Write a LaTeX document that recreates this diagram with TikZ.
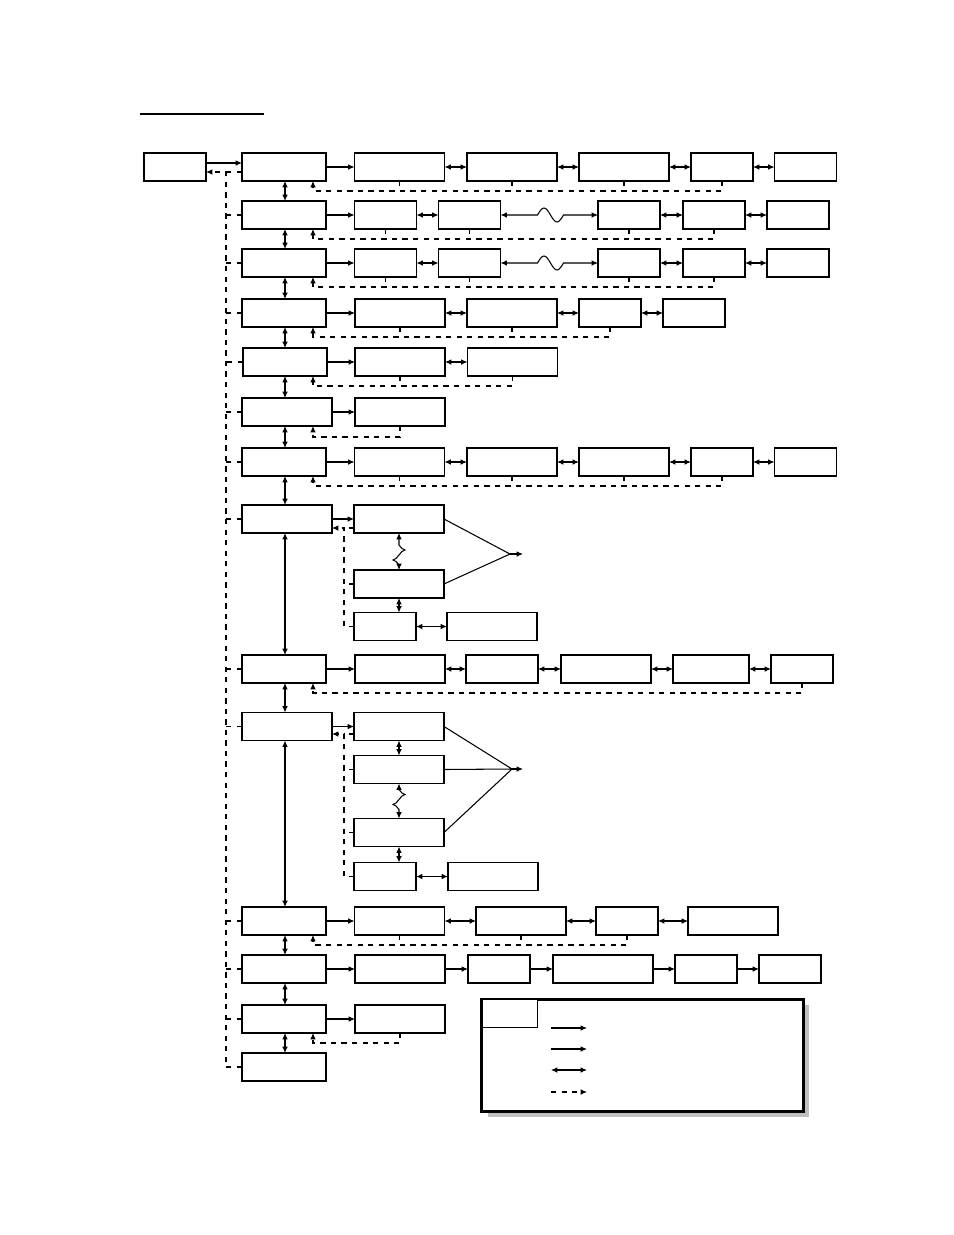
\documentclass[tikz,border=0pt]{standalone}
\usepackage{tikz}
\usetikzlibrary{arrows.meta, calc, shadows}

\begin{document}
\begin{tikzpicture}[
    x=0.02cm, y=-0.02cm,
    >={Latex[length=3.6pt, width=3.2pt]},
    box/.style={draw=black, line width=0.85pt, fill=white, minimum height=0.56cm, inner sep=0pt, outer sep=0pt},
    mainbox/.style={box, minimum width=1.68cm},
    widebox/.style={box, minimum width=1.8cm},
    smallbox/.style={box, minimum width=1.24cm},
    line/.style={line width=0.6pt},
    arrow/.style={->, line width=0.6pt},
    dblarrow/.style={<->, line width=0.6pt},
    fbarrow/.style={->, dashed, line width=0.6pt},
    fbline/.style={dashed, line width=0.6pt}
]
    \useasboundingbox (0,0) rectangle (954,1235);

    \coordinate (title) at (140,114);
    \draw[line width=1.1pt] (title) -- ++(124,0);

    \node[smallbox] (start) at (175,167) {};

    \node[mainbox] (m1) at (284,167) {};
    \node[mainbox] (m2) at (284,215) {};
    \node[mainbox] (m3) at (284,263) {};
    \node[mainbox] (m4) at (284,313) {};
    \node[mainbox] (m5) at (285,362) {};
    \node[widebox] (m6) at (287,412) {};
    \node[mainbox] (m7) at (284,462) {};
    \node[widebox] (m8) at (287,519) {};
    \node[mainbox] (m9) at (284,669) {};
    \node[widebox] (m10) at (287,726.5) {};
    \node[mainbox] (m11) at (284,921) {};
    \node[mainbox] (m12) at (284,969) {};
    \node[mainbox] (m13) at (284,1019) {};
    \node[mainbox] (m14) at (284,1067) {};

    \node[widebox] (b11) at (399.5,167) {};
    \node[widebox] (b12) at (512,167) {};
    \node[widebox] (b13) at (624,167) {};
    \node[smallbox] (b14) at (722,167) {};
    \node[smallbox] (b15) at (805.5,167) {};

    \node[smallbox] (b21) at (385.5,215) {};
    \node[smallbox] (b22) at (469.5,215) {};
    \node[smallbox] (b23) at (629,215) {};
    \node[smallbox] (b24) at (714,215) {};
    \node[smallbox] (b25) at (798,215) {};

    \node[smallbox] (b31) at (385.5,263) {};
    \node[smallbox] (b32) at (469.5,263) {};
    \node[smallbox] (b33) at (629,263) {};
    \node[smallbox] (b34) at (714,263) {};
    \node[smallbox] (b35) at (798,263) {};

    \node[widebox] (b41) at (400,313) {};
    \node[widebox] (b42) at (512,313) {};
    \node[smallbox] (b43) at (610,313) {};
    \node[smallbox] (b44) at (694,313) {};

    \node[widebox] (b51) at (400,362) {};
    \node[widebox] (b52) at (512.5,362) {};

    \node[widebox] (b61) at (400,412) {};

    \node[widebox] (b71) at (399.5,462) {};
    \node[widebox] (b72) at (512,462) {};
    \node[widebox] (b73) at (624,462) {};
    \node[smallbox] (b74) at (722,462) {};
    \node[smallbox] (b75) at (805.5,462) {};

    \node[widebox] (c1) at (399,519) {};
    \node[widebox] (c2) at (399,584) {};
    \node[smallbox] (c3) at (385,626.5) {};
    \node[widebox] (c4) at (492,626.5) {};

    \node[widebox] (b91) at (400,669) {};
    \node[box, minimum width=1.44cm] (b92) at (502,669) {};
    \node[widebox] (b93) at (606,669) {};
    \node[box, minimum width=1.52cm] (b94) at (711,669) {};
    \node[smallbox] (b95) at (802,669) {};

    \node[widebox] (d1) at (399,726.5) {};
    \node[widebox] (d2) at (399,769.5) {};
    \node[widebox] (d3) at (399,832.5) {};
    \node[smallbox] (d4) at (385,876.5) {};
    \node[widebox] (d5) at (493,876.5) {};

    \node[widebox] (b111) at (399.5,921) {};
    \node[widebox] (b112) at (521,921) {};
    \node[smallbox] (b113) at (627,921) {};
    \node[widebox] (b114) at (733,921) {};

    \node[widebox] (b121) at (400,969) {};
    \node[smallbox] (b122) at (499,969) {};
    \node[box, minimum width=2cm] (b123) at (603,969) {};
    \node[smallbox] (b124) at (706,969) {};
    \node[smallbox] (b125) at (790,969) {};

    \node[widebox] (b131) at (400,1019) {};

    \coordinate (bus) at (226,172);
    \coordinate (vx) at (285,0);
    \coordinate (fx) at (313,0);
    \coordinate (sb8) at (344,528);
    \coordinate (sb10) at (344,734);
    \coordinate (j8) at (510,554);
    \coordinate (j10) at (512,769);

    \draw[arrow] ([yshift=0.08cm]start.east) -- ([yshift=0.08cm]m1.west);
    \draw[fbarrow] (m14.west) -| (bus) -- (start.east |- bus);
    \draw[fbline] (m1.west |- bus) -- (bus);
    \foreach \m in {m2,m3,m4,m5,m6,m7,m8,m9,m10,m11,m12,m13}
        \draw[fbline] (\m.west) -- (\m.west -| bus);

    \foreach \a/\b in {m1/m2,m2/m3,m3/m4,m4/m5,m5/m6,m6/m7,m7/m8,m8/m9,m9/m10,m10/m11,m11/m12,m12/m13,m13/m14}
        \draw[dblarrow] (\a.south -| vx) -- (\b.north -| vx);

    \foreach \a/\b in {m1/b11,m2/b21,m3/b31,m4/b41,m5/b51,m6/b61,m7/b71,m8/c1,m9/b91,m10/d1,m11/b111,m12/b121,m13/b131,b121/b122,b122/b123,b123/b124,b124/b125}
        \draw[arrow] (\a) -- (\b);

    \foreach \a/\b in {b11/b12,b12/b13,b13/b14,b14/b15,b21/b22,b23/b24,b24/b25,b31/b32,b33/b34,b34/b35,b41/b42,b42/b43,b43/b44,b51/b52,b71/b72,b72/b73,b73/b74,b74/b75,c3/c4,b91/b92,b92/b93,b93/b94,b94/b95,d4/d5,b111/b112,b112/b113,b113/b114}
        \draw[dblarrow] (\a) -- (\b);
    \draw[dblarrow] (c2.south) -- (c2.south |- c3.north);
    \draw[dblarrow] (d1.south) -- (d2.north);
    \draw[dblarrow] (d3.south) -- (d3.south |- d4.north);

    \draw[dblarrow] (b22.east) -- ++(37,0) sin ++(6.5,-7) cos ++(6.5,7) sin ++(6.5,7) cos ++(6.5,-7) -- (b23.west);
    \draw[dblarrow] (b32.east) -- ++(37,0) sin ++(6.5,-7) cos ++(6.5,7) sin ++(6.5,7) cos ++(6.5,-7) -- (b33.west);
    \draw[dblarrow] (c1.south) -- ++(0,12) sin ++(6,5) cos ++(-6,5) sin ++(-6,5) cos ++(6,5) -- (c2.north);
    \draw[dblarrow] (d2.south) -- ++(0,6) sin ++(6,5) cos ++(-6,5) sin ++(-6,5) cos ++(6,5) -- (d3.north);

    \draw[line] (c1.east) -- (j8) -- (c2.east);
    \draw[arrow] (j8) -- ++(13,0);
    \draw[line] (d1.east) -- (j10) -- (d3.east) (d2.east) -- (j10);
    \draw[arrow] (j10) -- ++(11,0);

    \foreach \m/\e in {m1/b14,m2/b24,m3/b34,m4/b43,m5/b52,m7/b74,m9/b95,m11/b113,m13/b131}
        \draw[fbarrow] (\e.south) -- ++(0,10) -| (\m.south -| fx);
    \draw[fbarrow, line width=1pt] (b61.south) -- ++(0,11) -| (m6.south -| fx);
    \foreach \k in {b11,b12,b13,b21,b22,b23,b31,b32,b33,b41,b42,b51,b71,b72,b73,b111,b112}
        \draw[fbline] (\k.south) -- ++(0,10);

    \draw[fbarrow] (c3.west) -| (sb8) -- (m8.east |- sb8);
    \draw[fbline] (c1.west |- sb8) -- (sb8);
    \draw[fbline] (c2.west) -- (c2.west -| sb8);
    \draw[fbarrow] (d4.west) -| (sb10) -- (m10.east |- sb10);
    \draw[fbline] (d1.west |- sb10) -- (sb10);
    \draw[fbline] (d2.west) -- (d2.west -| sb10);
    \draw[fbline] (d3.west) -- (d3.west -| sb10);

    \node[box, line width=1.3pt, minimum width=6.44cm, minimum height=2.24cm,
          drop shadow={shadow xshift=0.12cm, shadow yshift=-0.1cm, fill=black!25, opacity=1}] (legend) at (642.5,1055.5) {};
    \node[box, line width=1.1pt, minimum width=1.12cm, anchor=north west] (key) at (legend.north west) {};
    \foreach \s/\yy in {arrow/1028,arrow/1049,dblarrow/1070,fbarrow/1092}
        \draw[\s] (551,\yy) -- ++(36,0);

\end{tikzpicture}
\end{document}
